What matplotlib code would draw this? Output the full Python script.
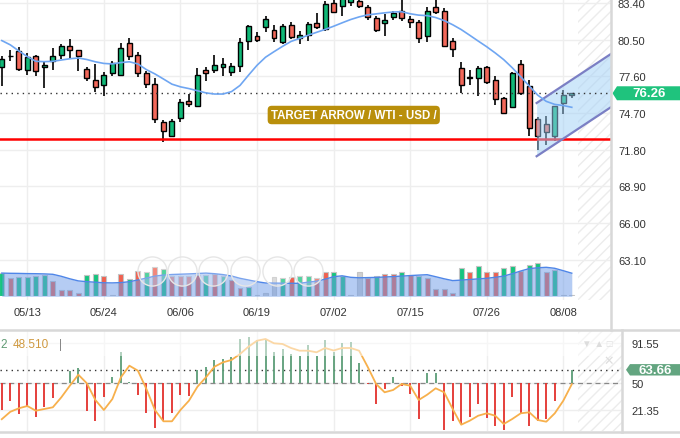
import numpy as np
import matplotlib
matplotlib.use("Agg")
import matplotlib.pyplot as plt
from matplotlib.lines import Line2D
from matplotlib.patches import Polygon, Rectangle
from matplotlib.transforms import blended_transform_factory

plt.rcParams['font.family'] = ['Liberation Sans', 'DejaVu Sans']
plt.rcParams['hatch.color'] = '#ececec'
plt.rcParams['hatch.linewidth'] = 1.0

# ---- data (WTI daily candles, 05/08 .. 08/09) ----
opens = [78.32, 79.17, 79.58, 78.10, 79.18, 78.36, 78.79, 79.31, 79.98, 79.66,
         78.16, 77.31, 76.94, 77.84, 77.73, 80.24, 79.29, 77.84, 76.97, 73.97,
         72.86, 74.28, 75.63, 75.28, 78.10, 78.13, 78.32, 77.92, 78.44, 80.37,
         80.79, 81.48, 81.26, 80.34, 81.66, 80.61, 80.87, 81.82, 81.34, 83.40,
         83.14, 83.50, 83.53, 83.06, 82.19, 81.79, 82.32, 82.79, 82.13, 81.87,
         80.77, 83.06, 82.74, 80.37, 78.24, 77.52, 77.45, 78.32, 77.31, 75.89,
         75.20, 78.58, 76.81, 74.23, 73.83, 72.86, 75.47, 76.10]
highs = [79.23, 79.71, 79.90, 79.42, 79.31, 78.84, 79.82, 80.13, 80.53, 79.70,
         78.36, 78.58, 77.97, 78.81, 80.21, 80.61, 79.50, 78.05, 77.49, 74.17,
         74.23, 75.81, 76.20, 78.26, 78.32, 79.29, 79.03, 78.65, 80.61, 81.66,
         81.08, 82.40, 81.68, 81.72, 81.87, 81.21, 81.92, 82.61, 83.58, 83.85,
         84.10, 84.20, 83.90, 83.24, 82.40, 82.53, 82.79, 83.80, 82.35, 82.06,
         83.06, 83.70, 82.98, 80.61, 78.76, 78.13, 78.44, 78.44, 77.60, 75.95,
         77.97, 78.89, 77.31, 74.36, 74.49, 75.25, 76.52, 76.30]
lows = [76.86, 78.84, 78.05, 77.73, 77.65, 76.65, 78.13, 78.97, 79.03, 78.05,
        77.21, 76.39, 76.07, 77.65, 77.65, 78.92, 77.57, 76.65, 73.93, 72.43,
        72.78, 74.01, 75.15, 75.23, 77.21, 77.86, 77.60, 77.65, 77.92, 79.71,
        80.29, 81.08, 80.34, 80.16, 80.55, 80.16, 80.42, 81.34, 81.21, 82.59,
        82.40, 83.19, 82.98, 82.06, 81.13, 80.77, 82.08, 82.00, 81.40, 80.21,
        80.34, 82.53, 79.95, 79.11, 76.28, 76.94, 76.02, 76.99, 75.33, 74.62,
        75.15, 76.15, 72.91, 71.78, 72.19, 72.51, 74.62, 75.86]
closes = [78.97, 79.19, 78.20, 79.11, 78.00, 78.47, 79.18, 79.98, 79.71, 79.18,
          77.49, 76.78, 77.68, 78.63, 79.82, 79.18, 77.84, 76.97, 74.20, 73.25,
          74.04, 75.55, 75.44, 77.68, 77.84, 78.50, 78.58, 78.39, 80.29, 81.58,
          80.50, 82.11, 80.66, 81.56, 80.73, 80.87, 81.74, 81.48, 83.32, 82.71,
          83.80, 83.90, 83.14, 82.32, 81.29, 82.06, 82.61, 82.19, 81.87, 80.63,
          82.79, 82.71, 80.02, 79.76, 76.94, 77.45, 78.26, 77.13, 75.81, 74.68,
          77.86, 76.26, 73.49, 72.91, 73.17, 75.23, 76.15, 76.26]
ma_line = [80.43, 80.09, 79.61, 79.16, 78.79, 78.76, 78.79, 78.89, 78.99, 79.05,
           78.93, 78.75, 78.62, 78.58, 78.69, 78.75, 78.58, 78.13, 77.79, 77.39,
           76.98, 76.77, 76.63, 76.46, 76.29, 76.20, 76.20, 76.39, 76.88, 77.69,
           78.47, 79.11, 79.55, 79.97, 80.36, 80.60, 80.85, 81.08, 81.31, 81.56,
           81.83, 82.09, 82.30, 82.46, 82.54, 82.62, 82.69, 82.71, 82.55, 82.44,
           82.40, 82.25, 82.01, 81.68, 81.30, 80.85, 80.39, 79.94, 79.45, 78.92,
           78.28, 77.57, 76.83, 76.11, 75.62, 75.38, 75.29, 75.15]

volume = [233, 183, 196, 196, 206, 213, 156, 66, 66, 30,
          216, 226, 206, 13, 226, 176, 256, 240, 296, 273,
          206, 206, 206, 216, 216, 223, 206, 166, 83, 90,
          13, 30, 196, 183, 196, 206, 206, 180, 240, 246,
          200, 13, 246, 180, 206, 223, 223, 246, 213, 206,
          180, 73, 70, 30, 283, 240, 306, 246, 246, 283,
          306, 256, 316, 333, 240, 266, 13, 13]
volume_dir = "grggggrrrrggrnrgrgrgrrrrgrgrrgnnngrggrrggrnrgrrgrgrrrrgrgrrggrggrgnn"
volume_ma = [232, 230, 229, 227, 226, 224, 220, 200, 175, 154,
             146, 141, 135, 134, 137, 146, 163, 182, 202, 212,
             218, 221, 224, 228, 232, 226, 217, 203, 180, 163,
             146, 133, 132, 131, 130, 130, 141, 151, 171, 196,
             205, 190, 185, 187, 189, 193, 197, 202, 207, 212,
             216, 196, 175, 157, 162, 168, 174, 180, 190, 202,
             226, 253, 277, 285, 290, 280, 256, 231]

osc_hist = [21.35, 30.51, 17.14, 24.19, 13.67, 24.19, 33.98, 49.5, 62.72, 65.56,
            20.62, 9.46, 35.35, 55.77, 82.08, 50.5, 37.46, 17.88, 2.41, 10.09,
            17.88, 37.14, 36.40, 63.77, 66.29, 73.98, 75.03, 76.82, 96.08, 98.50,
            95.03, 96.08, 82.08, 85.55, 80.29, 77.87, 90.08, 77.87, 95.03, 82.40,
            91.87, 92.61, 70.50, 49.0, 27.67, 43.45, 55.77, 46.93, 38.19, 11.88,
            59.98, 59.98, 0.30, 10.09, 6.62, 13.67, 27.67, 12.93, 4.83, 0.30,
            35.35, 17.88, 4.83, 10.09, 11.88, 30.51, 50.0, 63.66]
osc_signal = [11.67, 19.46, 23.14, 25.56, 20.62, 22.40, 24.19, 34.72, 46.93, 58.51,
              49.45, 31.88, 21.35, 32.93, 55.77, 67.98, 62.72, 43.45, 21.35, 9.46,
              9.46, 21.35, 31.14, 45.88, 55.77, 66.93, 71.56, 73.98, 80.29, 87.98,
              94.29, 96.08, 91.55, 90.82, 86.61, 83.77, 83.77, 82.08, 86.61, 84.00,
              86.61, 86.61, 83.77, 66.93, 48.72, 39.98, 42.40, 48.72, 46.93, 31.88,
              37.46, 44.19, 39.98, 22.40, 5.88, 10.09, 15.35, 17.88, 15.35, 6.62,
              11.88, 17.88, 18.95, 10.83, 9.04, 17.88, 31.14, 48.51]

tick_idx = [3, 12, 21, 30, 39, 48, 57, 66]
tick_labels = ['05/13', '05/24', '06/06', '06/19', '07/02', '07/15', '07/26', '08/08']
price_ticks = [83.40, 80.50, 77.60, 74.70, 71.80, 68.90, 66.00, 63.10]
osc_ticks = [91.55, 50, 21.35]

last_price = 76.26
support_level = 72.64
channel_x = [62.87, 72.5]
channel_upper = [75.49, 79.77]
channel_lower = [71.28, 75.56]
future_start = 67.76

# ---- layout ----
W, H = 680, 439
def fx(px):
    return px / W
def fy(py):
    return 1 - py / H

GREEN, RED = '#10b877', '#f2685a'
GRID = '#eeeeee'
idx = np.arange(len(opens))

fig = plt.figure(figsize=(6.8, 4.39), dpi=100)
ax = fig.add_axes([0, fy(301), fx(611), 301 / H])
axv = fig.add_axes([0, fy(297.3), fx(611), 60 / H])
axl = fig.add_axes([0, fy(432), fx(622), 100 / H])

x0, x1 = -0.209, 71.61
ax.set_xlim(x0, x1)
ax.set_ylim(59.91, 83.716)
axv.set_xlim(x0, x1)
axv.set_ylim(0, 600)
axl.set_xlim(x0, 72.9)
axl.set_ylim(-0.75, 104.5)

for a in (ax, axv, axl):
    for s in a.spines.values():
        s.set_visible(False)
axv.axis('off')
axv.patch.set_alpha(0)

# price panel
ax.set_axisbelow(True)
ax.grid(True, color=GRID, lw=1)
ax.set_xticks(tick_idx, tick_labels)
ax.set_yticks(price_ticks, ['%.2f' % t for t in price_ticks])
ax.yaxis.tick_right()
ax.tick_params(axis='y', length=0, pad=5, labelsize=8, labelcolor='#333333')
ax.tick_params(axis='x', length=0, pad=5, labelsize=8, labelcolor='#333333')
ax.axvspan(future_start, 80, facecolor='none', edgecolor='#ececec', hatch='///', lw=0, zorder=0.5)

ax.vlines(idx, lows, highs, color='black', lw=1.2, zorder=2)
o = np.array(opens); c = np.array(closes)
body_h = np.maximum(np.abs(c - o), 0.05)
body_c = [GREEN if cc >= oo else RED for oo, cc in zip(o, c)]
ax.bar(idx, body_h, bottom=np.minimum(o, c), width=0.58, color=body_c,
       edgecolor='black', lw=1, zorder=3)

ax.axhline(support_level, color='#ff0000', lw=1.8, zorder=4)
ax.axhline(last_price, color='#333333', ls=(0, (1, 3)), lw=1, zorder=5)
ax.fill_between(channel_x, channel_lower, channel_upper, color='#9fd0f7', alpha=0.5, lw=0, zorder=4)
ax.plot(channel_x, channel_upper, color='#7b7fc4', lw=1.6, zorder=5)
ax.plot(channel_x, channel_lower, color='#7b7fc4', lw=1.6, zorder=5)
ax.plot(idx, ma_line, color='#6fa6f2', lw=1.2, zorder=6)

ax.text(0.579, 0.6146, 'TARGET ARROW / WTI - USD /', transform=ax.transAxes,
        ha='center', va='center', color='white', fontweight='bold', fontsize=8.3,
        bbox=dict(boxstyle='round,pad=0.28,rounding_size=0.35', fc='#b98f0b', ec='none'), zorder=7)

# last price tag
bt = blended_transform_factory(fig.transFigure, ax.transData)
hh = 7 * 0.07908
fig.add_artist(Polygon([(fx(612.5), last_price), (fx(617), last_price + hh), (1, last_price + hh),
                        (1, last_price - hh), (fx(617), last_price - hh)],
                       closed=True, transform=bt, fc='#1fc37d', ec='none'))
fig.text(fx(649), 0, '%.2f' % last_price, transform=bt, ha='center', va='center',
         color='white', fontweight='bold', fontsize=9.5).set_y(last_price)

# volume overlay
vcol = {'g': '#16c47f', 'r': '#f0604f', 'n': '#d0d0d0'}
axv.bar(idx, volume, width=0.58, color=[vcol[d] for d in volume_dir],
        edgecolor='#c4c4c4', lw=0.8, zorder=2)
axv.fill_between(idx, 0, volume_ma, color='#6c9be8', alpha=0.5, lw=0, zorder=3)
axv.plot(idx, volume_ma, color='#4f86e8', lw=1, zorder=4)

# faint chart-control buttons
for cx in [151.7, 182.3, 213.3, 245, 276.7, 308.3]:
    fig.add_artist(Line2D([fx(cx)], [fy(272)], marker='o', markersize=21, mfc=(1, 1, 1, 0.25),
                          mec='#e6e6e6', mew=1, transform=fig.transFigure))

# oscillator panel
axl.set_axisbelow(True)
axl.set_xticks(tick_idx)
axl.set_yticks(osc_ticks, ['91.55', '50', '21.35'])
axl.grid(True, color=GRID, lw=1)
axl.yaxis.tick_right()
axl.tick_params(axis='y', length=0, pad=7, labelsize=8, labelcolor='#333333')
axl.tick_params(axis='x', length=0, labelbottom=False)
axl.axvspan(future_start, 80, facecolor='none', edgecolor='#ececec', hatch='///', lw=0, zorder=0.5)
axl.axhline(50, color='#888888', ls=(0, (4, 3)), lw=0.9, zorder=2)
axl.axhline(osc_hist[-1], color='#333333', ls=(0, (1, 3)), lw=1, zorder=2)
hist_c = ['#5c9d77' if v >= 50 else '#e3302c' for v in osc_hist]
axl.vlines(idx, 50, osc_hist, colors=hist_c, lw=1.3, zorder=3)
axl.plot(idx, osc_signal, color='#f7b04c', lw=1.3, zorder=4)
axl.add_patch(Rectangle((0, 0.75), 1, 0.25, transform=axl.transAxes, fc='white',
                        alpha=0.5, lw=0, zorder=5))

bl = blended_transform_factory(fig.transFigure, axl.transData)
hl = 5.7 * 1.0525
v = osc_hist[-1]
fig.add_artist(Polygon([(fx(626), v), (fx(630), v + hl), (1, v + hl), (1, v - hl), (fx(630), v - hl)],
                       closed=True, transform=bl, fc='#63a580', ec='none'))
t = fig.text(fx(655), 0, '%.2f' % v, transform=bl, ha='center', va='center',
             color='white', fontweight='bold', fontsize=9.5)
t.set_y(v)

fig.text(fx(0.5), fy(345), '2', color='#5f9a73', fontsize=8.5, va='center')
fig.text(fx(13), fy(345), '%.3f' % osc_signal[-1], color='#cf9940', fontsize=8.5, va='center')
fig.text(fx(59), fy(345), '|', color='#888888', fontsize=8.5, va='center')
fig.text(fx(582), fy(344), '\u25bc \u25b2 \u25a1', color='#dddddd', fontsize=7, va='center')
fig.text(fx(603), fy(362), '\u2715', color='#dddddd', fontsize=9, va='center')

# panel borders
bc = '#d8d8d8'
fig.add_artist(Line2D([fx(611), fx(611)], [fy(0), fy(331)], color=bc, lw=1.8, transform=fig.transFigure))
fig.add_artist(Line2D([0, 1], [fy(331), fy(331)], color=bc, lw=1.8, transform=fig.transFigure))
fig.add_artist(Line2D([0, 1], [fy(433), fy(433)], color=bc, lw=1.8, transform=fig.transFigure))
fig.add_artist(Line2D([fx(622), fx(622)], [fy(331), fy(433)], color=bc, lw=1.8, transform=fig.transFigure))

fig.savefig('out.png', dpi=100)
